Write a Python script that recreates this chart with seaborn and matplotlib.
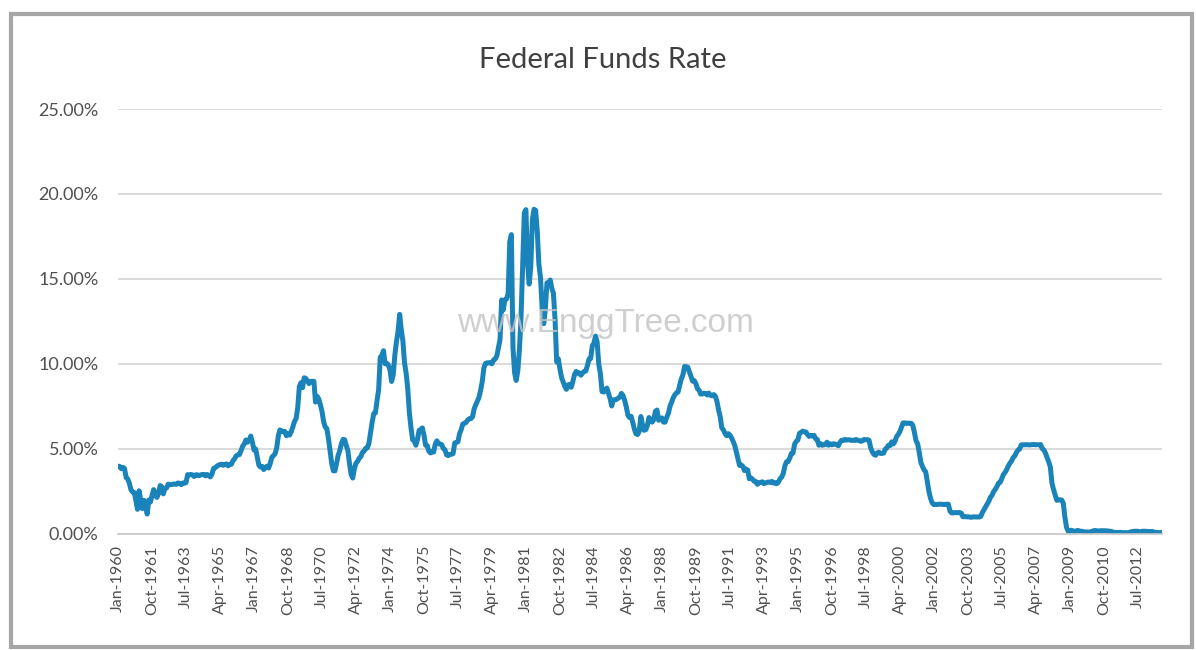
import pandas as pd
import matplotlib.pyplot as plt
import seaborn as sns
from matplotlib.patches import Rectangle
from matplotlib.ticker import FuncFormatter

# monthly effective federal funds rate (%), one row per year
rates_1960s = [
    3.99, 3.97, 3.84, 3.92, 3.85, 3.32, 3.23, 2.98, 2.60, 2.47, 2.44, 1.98,
    1.45, 2.54, 2.02, 1.49, 1.98, 1.73, 1.17, 2.00, 1.88, 2.26, 2.61, 2.33,
    2.15, 2.37, 2.85, 2.78, 2.36, 2.68, 2.71, 2.93, 2.90, 2.90, 2.94, 2.93,
    2.92, 3.00, 2.98, 2.90, 3.00, 2.99, 3.02, 3.49, 3.48, 3.50, 3.48, 3.38,
    3.48, 3.48, 3.43, 3.47, 3.50, 3.50, 3.42, 3.50, 3.45, 3.36, 3.52, 3.85,
    3.90, 3.98, 4.04, 4.09, 4.10, 4.04, 4.09, 4.12, 4.01, 4.08, 4.10, 4.32,
    4.42, 4.60, 4.65, 4.67, 4.90, 5.17, 5.30, 5.53, 5.40, 5.53, 5.76, 5.40,
    4.94, 5.00, 4.53, 4.05, 3.94, 3.98, 3.79, 3.90, 3.99, 3.88, 4.13, 4.51,
    4.61, 4.71, 5.05, 5.76, 6.12, 6.07, 6.02, 6.03, 5.78, 5.91, 5.82, 6.02,
    6.30, 6.61, 6.79, 7.41, 8.67, 8.90, 8.61, 9.19, 9.15, 9.00, 8.85, 8.97,
]
rates_1970s = [
    8.98, 8.98, 7.76, 8.10, 7.94, 7.60, 7.21, 6.61, 6.29, 6.20, 5.60, 4.90,
    4.14, 3.72, 3.71, 4.15, 4.63, 4.91, 5.31, 5.56, 5.55, 5.20, 4.91, 4.14,
    3.50, 3.29, 3.83, 4.17, 4.27, 4.46, 4.55, 4.80, 4.87, 5.04, 5.06, 5.33,
    5.94, 6.58, 7.09, 7.12, 7.84, 8.49, 10.40, 10.50, 10.78, 10.01, 10.03, 9.95,
    9.65, 8.97, 9.35, 10.51, 11.31, 11.93, 12.92, 12.01, 11.34, 10.06, 9.45, 8.53,
    7.13, 6.24, 5.54, 5.49, 5.22, 5.55, 6.10, 6.14, 6.24, 5.82, 5.22, 5.20,
    4.87, 4.77, 4.84, 4.82, 5.29, 5.48, 5.31, 5.29, 5.25, 5.02, 4.95, 4.65,
    4.61, 4.68, 4.69, 4.73, 5.35, 5.39, 5.42, 5.90, 6.14, 6.47, 6.51, 6.56,
    6.70, 6.78, 6.79, 6.89, 7.36, 7.60, 7.81, 8.04, 8.45, 8.96, 9.76, 10.03,
    10.07, 10.06, 10.09, 10.01, 10.24, 10.29, 10.47, 10.94, 11.43, 13.77, 13.18, 13.78,
]
rates_1980s = [
    13.82, 14.13, 17.19, 17.61, 10.98, 9.47, 9.03, 9.61, 10.87, 12.81, 15.85, 18.90,
    19.08, 15.93, 14.70, 15.72, 18.52, 19.10, 19.04, 17.82, 15.87, 15.08, 13.31, 12.37,
    13.22, 14.78, 14.68, 14.94, 14.45, 14.15, 12.59, 10.12, 10.31, 9.71, 9.20, 8.95,
    8.68, 8.51, 8.77, 8.80, 8.63, 8.98, 9.37, 9.56, 9.45, 9.48, 9.34, 9.47,
    9.56, 9.59, 9.91, 10.29, 10.32, 11.06, 11.23, 11.64, 11.30, 9.99, 9.43, 8.38,
    8.35, 8.50, 8.58, 8.27, 7.97, 7.53, 7.88, 7.90, 7.92, 7.99, 8.05, 8.27,
    8.14, 7.86, 7.48, 6.99, 6.85, 6.92, 6.56, 6.17, 5.89, 5.85, 6.04, 6.91,
    6.43, 6.10, 6.13, 6.37, 6.85, 6.73, 6.58, 6.73, 7.22, 7.29, 6.69, 6.77,
    6.83, 6.58, 6.58, 6.87, 7.09, 7.51, 7.75, 8.01, 8.19, 8.30, 8.35, 8.76,
    9.12, 9.36, 9.85, 9.84, 9.81, 9.53, 9.24, 8.99, 9.02, 8.84, 8.55, 8.45,
]
rates_1990s = [
    8.23, 8.24, 8.28, 8.26, 8.18, 8.29, 8.15, 8.13, 8.20, 8.11, 7.81, 7.31,
    6.91, 6.25, 6.12, 5.91, 5.78, 5.90, 5.82, 5.66, 5.45, 5.21, 4.81, 4.43,
    4.03, 4.06, 3.98, 3.73, 3.82, 3.76, 3.25, 3.30, 3.22, 3.10, 3.09, 2.92,
    3.02, 3.03, 3.07, 2.96, 3.00, 3.04, 3.06, 3.03, 3.09, 2.99, 3.02, 2.96,
    3.05, 3.25, 3.34, 3.56, 4.01, 4.25, 4.26, 4.47, 4.73, 4.76, 5.29, 5.45,
    5.53, 5.92, 5.98, 6.05, 6.01, 6.00, 5.85, 5.74, 5.80, 5.76, 5.80, 5.60,
    5.56, 5.22, 5.31, 5.22, 5.24, 5.27, 5.40, 5.22, 5.30, 5.24, 5.31, 5.29,
    5.25, 5.19, 5.39, 5.51, 5.50, 5.56, 5.52, 5.54, 5.54, 5.50, 5.52, 5.50,
    5.56, 5.51, 5.49, 5.45, 5.49, 5.56, 5.54, 5.55, 5.51, 5.07, 4.83, 4.68,
    4.63, 4.76, 4.81, 4.74, 4.74, 4.76, 4.99, 5.07, 5.22, 5.20, 5.42, 5.30,
]
rates_2000s = [
    5.45, 5.73, 5.85, 6.02, 6.27, 6.53, 6.54, 6.50, 6.52, 6.51, 6.51, 6.40,
    5.98, 5.49, 5.31, 4.80, 4.21, 3.97, 3.77, 3.65, 3.07, 2.49, 2.09, 1.82,
    1.73, 1.74, 1.73, 1.75, 1.75, 1.75, 1.73, 1.74, 1.75, 1.75, 1.34, 1.24,
    1.24, 1.26, 1.25, 1.26, 1.26, 1.22, 1.01, 1.03, 1.01, 1.01, 1.00, 0.98,
    1.00, 1.01, 1.00, 1.00, 1.00, 1.03, 1.26, 1.43, 1.61, 1.76, 1.93, 2.16,
    2.28, 2.50, 2.63, 2.79, 3.00, 3.04, 3.26, 3.50, 3.62, 3.78, 4.00, 4.16,
    4.29, 4.49, 4.59, 4.79, 4.94, 4.99, 5.24, 5.25, 5.25, 5.25, 5.25, 5.24,
    5.25, 5.26, 5.26, 5.25, 5.25, 5.25, 5.26, 5.02, 4.94, 4.76, 4.49, 4.24,
    3.94, 2.98, 2.61, 2.28, 1.98, 2.00, 2.01, 2.00, 1.81, 0.97, 0.39, 0.16,
    0.15, 0.22, 0.18, 0.15, 0.18, 0.21, 0.16, 0.16, 0.15, 0.12, 0.12, 0.12,
]
rates_2010s = [
    0.11, 0.13, 0.16, 0.20, 0.20, 0.18, 0.18, 0.19, 0.19, 0.19, 0.19, 0.18,
    0.17, 0.16, 0.14, 0.10, 0.09, 0.09, 0.07, 0.10, 0.08, 0.07, 0.08, 0.07,
    0.08, 0.10, 0.13, 0.14, 0.16, 0.16, 0.16, 0.13, 0.14, 0.16, 0.16, 0.16,
    0.14, 0.15, 0.14, 0.15, 0.11, 0.09, 0.09, 0.08, 0.08, 0.09,
]

rates = rates_1960s + rates_1970s + rates_1980s + rates_1990s + rates_2000s + rates_2010s
months = pd.date_range('1960-01-01', periods=len(rates), freq='MS')
df = pd.DataFrame({'idx': range(len(rates)), 'Rate': [r / 100 for r in rates]})

tick_step = 21  # one label every 21 months, as in the original
tick_pos = list(range(0, len(rates), tick_step))
tick_labels = [months[i].strftime('%b-%Y') for i in tick_pos]

sns.set_style('white')
plt.rcParams['font.family'] = ['Lato', 'DejaVu Sans']

fig = plt.figure(figsize=(11.96, 6.5), dpi=100)
ax = fig.add_axes([0.0987, 0.1785, 0.8729, 0.6538])

sns.lineplot(data=df, x='idx', y='Rate', color='#1a84ba', linewidth=3.6, ax=ax)

ax.set_xlim(0, len(rates) - 1)
ax.set_ylim(0, 0.25)
ax.set_yticks([0, 0.05, 0.10, 0.15, 0.20, 0.25])
ax.yaxis.set_major_formatter(FuncFormatter(lambda v, p: f'{v * 100:.2f}%'))
ax.set_xticks(tick_pos)
ax.set_xticklabels(tick_labels, rotation=90)
ax.tick_params(axis='y', length=0, pad=14, labelsize=13, labelcolor='#505050')
ax.tick_params(axis='x', length=0, pad=8, labelsize=11.5, labelcolor='#505050')
ax.grid(axis='y', color='#d4d4d4', linewidth=1.2)
ax.set_axisbelow(True)
for s in ['left', 'right', 'top']:
    ax.spines[s].set_visible(False)
ax.spines['bottom'].set_color('#c8c8c8')
ax.spines['bottom'].set_linewidth(1.2)
ax.set_xlabel('')
ax.set_ylabel('')

fig.text(0.504, 0.907, 'Federal Funds Rate', ha='center', va='center',
         fontsize=21, color='#404040')
fig.text(0.506, 0.503, 'www.EnggTree.com', ha='center', va='center',
         fontsize=24, color='#c4c4c4', alpha=0.8, family=['Liberation Sans'])

# grey frame round the chart
fig.patches.append(Rectangle((0.009, 0.004), 0.988, 0.975, transform=fig.transFigure,
                             fill=False, edgecolor='#a6a6a6', linewidth=3))

fig.savefig('out.png', dpi=100)
